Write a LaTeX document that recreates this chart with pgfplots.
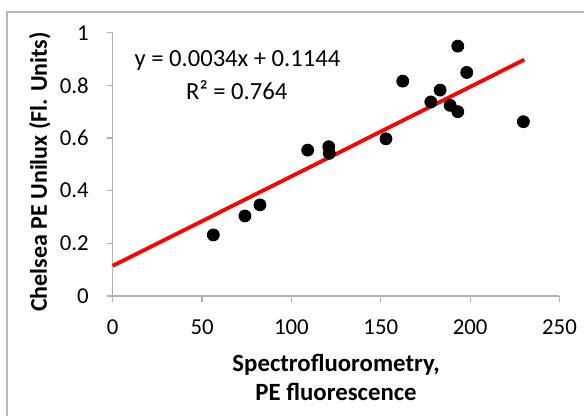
\documentclass[border=0pt]{standalone}
\usepackage{pgfplots}
\pgfplotsset{compat=1.18}
\usepackage{fontspec}
\setmainfont{Carlito}
\begin{document}
\begin{tikzpicture}
\useasboundingbox (-56.35pt,-60pt) rectangle (235.65pt,148pt);
\draw[gray!55, line width=0.6pt] (-52.85pt,-80pt) -- (-52.85pt,142pt) -- (260pt,142pt);
\begin{axis}[
  at={(0,0)}, anchor=south west,
  scale only axis, width=223.4pt, height=131.65pt,
  xmin=0, xmax=250, ymin=0, ymax=1,
  axis lines=left,
  axis line style={draw=gray!60, -, line width=0.6pt},
  xtick={0,50,100,150,200,250},
  ytick={0,0.2,0.4,0.6,0.8,1},
  tick align=outside,
  major tick length=3pt,
  tick style={gray!60, line width=0.6pt},
  /pgf/number format/assume math mode=true,
  ticklabel style={font=\fontsize{11.4}{14}\selectfont},
  xticklabel style={yshift=-5.5pt},
  yticklabel style={xshift=-5.5pt},
  xlabel={Spectrofluorometry,\\PE fluorescence},
  ylabel={Chelsea PE Unilux (Fl. Units)},
  xlabel style={align=center, font=\fontsize{12.4}{14.5}\selectfont\bfseries, at={(axis description cs:0.5,-0.31)}, anchor=center},
  ylabel style={font=\fontsize{12}{15}\selectfont\bfseries, at={(axis description cs:-0.163,0.471)}, anchor=center},
  clip=false,
]
\addplot[only marks, mark=*, mark size=3pt, black] coordinates {
(56.3,0.232) (74.0,0.304) (82.4,0.346) (109.1,0.554) (120.9,0.567) (121.2,0.542)
(152.9,0.597) (162.3,0.816) (178.0,0.737) (183.2,0.782) (188.8,0.724) (193.1,0.700)
(193.1,0.949) (198.1,0.849) (229.8,0.662)
};
\addplot[red, line width=1.9pt] coordinates {(0,0.1144) (230.3,0.8974)};
\node[font=\fontsize{12.3}{15}\selectfont] at (axis cs:69.8,0.896) {y = 0.0034x + 0.1144};
\node[font=\fontsize{12.3}{15}\selectfont] at (axis cs:69.4,0.782) {R² = 0.764};
\end{axis}
\end{tikzpicture}
\end{document}
